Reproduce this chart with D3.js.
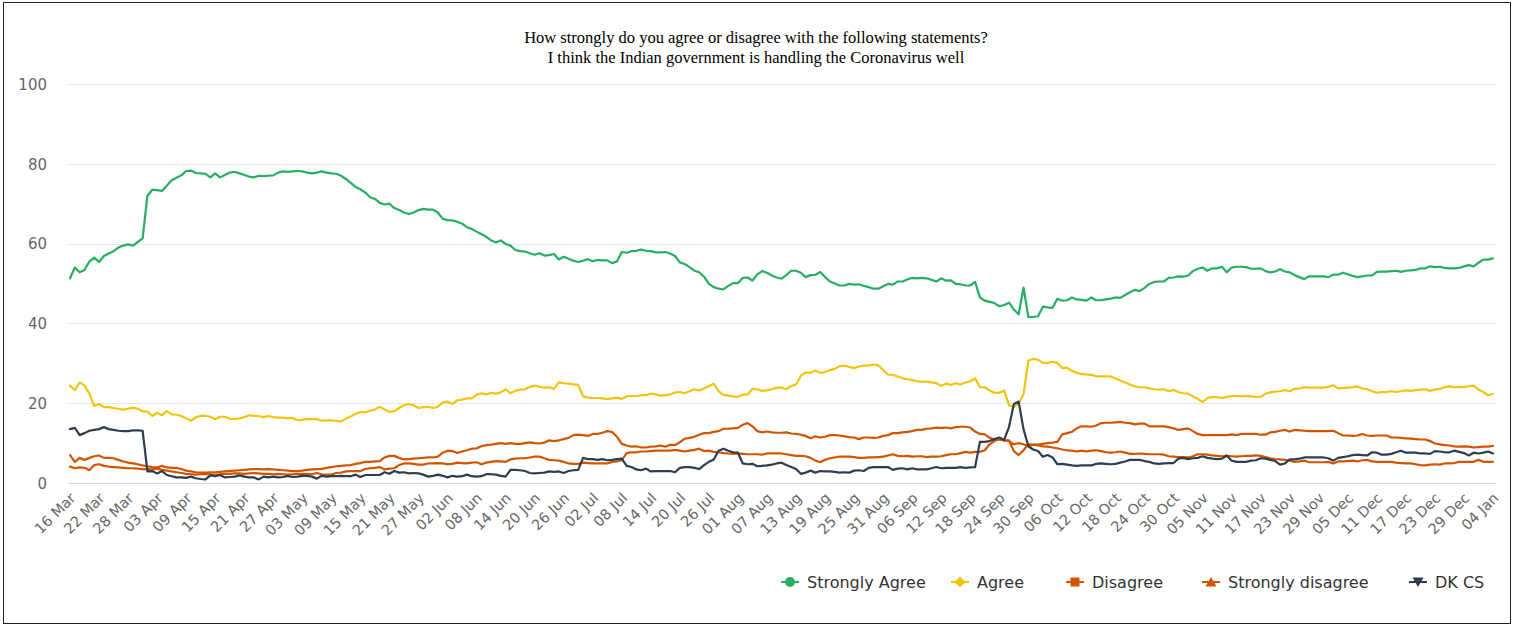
<!DOCTYPE html>
<html><head><meta charset="utf-8">
<script src="https://cdn.jsdelivr.net/npm/d3@7/dist/d3.min.js"></script>
<style>html,body{margin:0;padding:0;background:#fff;}svg{display:block;}</style>
</head><body>
<svg id="chart" width="1518" height="627"></svg>
<script>
const titleLines = ["How strongly do you agree or disagree with the following statements?",
  "I think the Indian government is handling the Coronavirus well"];
const startDate = "2020-03-16";
const tickLabels = ["16 Mar","22 Mar","28 Mar","03 Apr","09 Apr","15 Apr","21 Apr","27 Apr","03 May","09 May",
 "15 May","21 May","27 May","02 Jun","08 Jun","14 Jun","20 Jun","26 Jun","02 Jul","08 Jul",
 "14 Jul","20 Jul","26 Jul","01 Aug","07 Aug","13 Aug","19 Aug","25 Aug","31 Aug","06 Sep",
 "12 Sep","18 Sep","24 Sep","30 Sep","06 Oct","12 Oct","18 Oct","24 Oct","30 Oct","05 Nov",
 "11 Nov","17 Nov","23 Nov","29 Nov","05 Dec","11 Dec","17 Dec","23 Dec","29 Dec","04 Jan"];
const yTicks = [0,20,40,60,80,100];
const seriesNames = ["Strongly Agree","Agree","Disagree","Strongly disagree","DK CS"];

const stronglyAgree = [
51.3,54.0,52.8,53.4,55.5,56.5,55.4,56.9,57.5,58.1, 59.0,59.5,59.8,59.5,60.4,61.3,72.0,73.5,73.4,73.2,
74.5,75.9,76.5,77.1,78.2,78.3,77.7,77.6,77.5,76.6, 77.6,76.6,77.2,77.8,78.0,77.6,77.2,76.8,76.6,77.0,
76.9,77.0,77.1,77.8,78.1,78.0,78.1,78.2,78.1,77.8, 77.6,77.8,78.1,77.8,77.6,77.5,77.0,76.2,75.2,74.2,
73.6,72.8,71.6,71.2,70.2,69.8,70.0,68.9,68.4,67.8, 67.4,67.8,68.4,68.7,68.5,68.5,67.8,66.2,65.9,65.8,
65.5,65.0,64.1,63.7,63.0,62.4,61.7,60.8,60.3,60.8, 59.9,59.5,58.4,58.1,58.0,57.6,57.2,57.6,57.0,57.1,
57.4,56.0,56.7,56.2,55.7,55.4,55.7,56.1,55.6,55.9, 55.8,55.8,55.1,55.5,57.9,57.7,58.1,58.2,58.5,58.2,
58.1,57.8,57.8,57.9,57.5,56.9,55.3,54.9,54.1,53.2, 52.8,51.7,49.9,49.1,48.7,48.5,49.4,50.1,50.1,51.4,
51.5,50.7,52.3,53.1,52.7,52.0,51.5,51.2,52.1,53.2, 53.2,52.7,51.6,52.1,52.2,52.9,51.6,50.5,50.0,49.5,
49.5,49.9,49.7,49.8,49.4,49.1,48.7,48.7,49.3,49.9, 49.7,50.5,50.5,51.0,51.4,51.3,51.4,51.3,50.9,50.5,
51.3,50.7,50.8,49.9,49.8,49.5,49.5,50.4,46.5,45.7, 45.4,45.1,44.3,44.6,45.2,43.5,42.3,49.0,41.6,41.6,
41.8,44.2,44.0,43.9,46.2,45.7,45.8,46.5,46.0,45.9, 45.7,46.5,45.8,45.8,46.0,46.2,46.5,46.4,47.1,47.8,
48.4,48.1,48.9,49.9,50.4,50.5,50.5,51.4,51.5,51.8, 51.7,52.0,53.1,53.7,54.0,53.2,53.8,53.8,54.2,52.8,
54.0,54.2,54.2,54.1,53.7,53.7,53.8,53.1,52.8,53.0, 53.6,53.0,52.8,52.1,51.6,51.1,51.8,51.8,51.8,51.8,
51.6,52.2,52.2,52.7,52.3,51.9,51.6,51.8,52.0,52.0, 52.9,53.0,53.0,53.1,53.2,52.9,53.2,53.3,53.4,53.8,
53.8,54.3,54.1,54.2,53.9,53.8,53.8,53.9,54.3,54.6, 54.3,55.2,56.0,56.0,56.3];

const agree = [
24.4,23.3,25.2,24.4,22.4,19.3,19.8,19.0,19.0,18.8, 18.6,18.4,18.6,18.9,18.6,18.0,17.9,16.8,17.6,17.0,
18.0,17.2,17.1,16.8,16.2,15.6,16.5,16.8,16.8,16.6, 16.0,16.6,16.6,16.1,16.0,16.2,16.5,17.0,16.8,16.8,
16.5,16.8,16.5,16.4,16.4,16.2,16.3,15.7,15.9,16.0, 16.0,16.0,15.6,15.7,15.7,15.6,15.4,16.1,16.7,17.3,
17.8,17.7,18.1,18.4,19.1,18.4,17.8,18.0,18.8,19.5, 19.8,19.5,18.8,19.0,19.1,18.8,19.1,20.2,20.4,19.8,
20.7,20.9,21.2,21.2,22.1,22.5,22.2,22.6,22.4,22.7, 23.5,22.5,23.1,23.4,23.5,24.1,24.4,24.1,23.9,24.0,
23.6,25.2,25.0,24.9,24.7,24.6,21.7,21.4,21.3,21.3, 21.2,21.0,21.2,21.4,21.1,21.7,21.8,21.8,22.0,22.0,
22.4,22.2,21.9,22.0,22.2,22.7,22.8,22.5,23.0,23.5, 23.2,23.7,24.3,24.9,23.0,22.1,21.9,21.7,21.6,22.1,
22.2,23.6,23.5,23.1,23.2,23.5,23.9,23.9,23.5,24.3, 24.7,26.9,27.7,27.6,28.2,27.6,27.8,28.3,28.6,29.3,
29.4,29.1,28.8,29.2,29.4,29.5,29.7,29.5,28.3,27.2, 27.1,26.7,26.3,26.0,25.8,25.5,25.4,25.4,25.2,25.0,
24.4,24.9,24.6,25.0,24.7,25.2,25.5,26.2,24.0,24.0, 23.2,22.6,22.6,23.2,19.5,19.1,19.9,22.2,30.7,31.1,
30.9,30.1,30.1,30.4,30.1,28.8,28.9,28.1,27.6,27.3, 27.2,27.1,26.8,26.7,26.7,26.7,26.2,25.7,25.2,24.7,
24.2,24.0,24.0,23.7,23.5,23.4,23.5,23.0,23.3,22.8, 22.5,22.4,21.7,21.1,20.3,21.3,21.6,21.5,21.3,21.6,
21.8,21.8,21.7,21.8,21.7,21.6,21.6,22.4,22.7,22.9, 23.0,23.3,23.0,23.6,23.7,24.0,23.9,23.9,23.9,23.9,
24.1,24.5,23.7,23.8,23.9,24.0,24.2,23.7,23.5,23.0, 22.6,22.8,22.8,23.0,22.8,23.0,23.2,23.1,23.3,23.4,
23.5,23.1,23.4,23.6,24.0,24.2,24.0,24.1,24.0,24.3, 24.4,23.4,22.8,22.0,22.3];

const disagree = [
7.0,5.3,6.3,5.8,6.3,6.7,6.9,6.3,6.3,6.2, 5.8,5.4,5.1,4.9,4.7,4.4,4.2,4.0,3.9,4.3,
3.9,3.8,3.8,3.5,3.1,2.9,2.7,2.6,2.6,2.7, 2.7,2.8,2.9,3.0,3.1,3.2,3.3,3.4,3.5,3.5,
3.4,3.5,3.4,3.3,3.2,3.1,3.0,3.0,3.1,3.3, 3.4,3.5,3.5,3.8,4.0,4.2,4.3,4.4,4.5,4.8,
5.0,5.3,5.3,5.4,5.5,6.4,6.8,6.8,6.3,5.9, 6.0,6.1,6.2,6.3,6.4,6.4,6.6,7.6,8.1,8.0,
7.5,7.9,8.2,8.6,8.7,9.2,9.5,9.6,9.8,10.0, 9.8,10.0,9.8,9.8,10.0,10.2,10.0,9.9,10.1,10.7,
10.5,10.7,11.0,11.3,12.0,12.1,12.0,11.8,12.3,12.3, 12.6,13.0,12.8,11.6,9.8,9.4,9.1,9.2,8.9,8.9,
9.1,9.2,9.4,9.1,9.6,9.5,10.2,11.1,11.3,11.6, 12.1,12.5,12.5,12.8,13.0,13.6,13.6,13.7,13.8,14.6,
15.0,14.2,13.0,12.7,12.9,12.7,12.6,12.6,12.7,12.4, 12.3,12.1,11.8,11.2,11.7,11.4,11.6,12.0,12.0,11.9,
11.7,11.5,11.4,11.0,11.4,11.4,11.3,11.4,11.8,12.0, 12.5,12.5,12.7,12.8,13.0,13.3,13.3,13.6,13.7,13.9,
13.8,13.9,13.7,14.0,14.1,14.1,13.9,12.9,12.3,12.2, 11.3,10.9,10.9,10.7,10.7,8.0,7.0,8.2,9.7,9.6,
9.6,9.8,10.0,10.1,10.3,12.2,12.5,12.8,13.7,14.2, 14.2,14.1,14.4,15.0,15.1,15.1,15.2,15.3,15.1,15.0,
14.7,14.9,14.9,14.2,14.2,14.2,14.2,14.0,13.7,13.3, 13.5,13.7,13.0,12.3,12.0,12.0,12.0,12.0,12.0,12.0,
12.2,12.0,12.3,12.3,12.3,12.3,12.1,12.1,12.7,12.8, 13.1,13.3,12.9,13.3,13.2,13.1,13.0,13.0,13.0,13.0,
13.0,13.1,12.5,11.9,11.9,11.8,11.9,12.3,11.9,11.8, 11.9,11.9,11.9,11.4,11.4,11.3,11.2,11.1,11.0,10.9,
10.9,10.5,9.9,9.7,9.5,9.4,9.2,9.1,9.2,9.1, 8.9,9.0,9.1,9.1,9.3];

const stronglyDisagree = [
4.1,3.7,3.9,3.8,3.2,4.5,4.7,4.3,4.1,4.0, 3.9,3.8,3.7,3.7,3.6,3.5,3.5,3.4,3.6,3.3,
3.1,2.9,2.7,2.5,2.3,2.2,2.1,2.2,2.3,2.2, 2.1,2.2,2.3,2.3,2.4,2.4,2.3,2.4,2.5,2.4,
2.3,2.3,2.2,2.3,2.2,2.1,2.2,2.3,2.3,2.3, 2.2,2.5,2.2,2.1,2.1,2.5,2.6,2.9,3.0,3.0,
3.0,3.5,3.7,3.8,4.0,3.4,3.6,3.7,4.5,4.9, 4.9,4.8,4.6,4.6,4.9,4.9,5.0,4.9,4.7,4.8,
5.1,5.0,4.9,5.1,5.2,4.7,5.1,5.3,5.5,5.4, 5.3,5.9,6.1,6.2,6.2,6.4,6.6,6.6,6.2,5.8,
5.7,5.6,5.3,4.9,4.8,4.8,5.1,5.0,4.9,4.9, 4.9,4.9,5.3,5.4,5.7,7.5,7.7,7.7,7.9,7.9,
8.0,8.1,8.1,8.1,8.1,8.3,8.1,7.9,8.1,8.3, 8.6,8.0,8.1,7.8,7.7,7.5,7.4,7.3,7.4,7.3,
7.2,7.2,7.2,7.1,7.4,7.4,7.4,7.4,7.2,7.0, 6.8,6.8,6.7,6.3,5.6,5.2,5.8,6.2,6.4,6.6,
6.6,6.6,6.5,6.3,6.3,6.4,6.4,6.5,6.6,6.9, 7.2,6.8,6.7,6.8,6.6,6.7,6.7,6.5,6.6,6.6,
6.7,7.0,7.2,7.2,7.5,7.8,7.6,7.8,7.8,8.2, 9.7,10.5,11.0,10.7,10.5,9.7,10.0,9.7,9.2,9.6,
9.4,9.2,9.1,8.9,8.7,8.4,8.2,8.1,7.9,8.1, 7.9,8.1,8.2,8.0,7.7,7.6,7.7,7.9,7.6,7.3,
7.3,7.4,7.3,7.2,7.2,7.2,7.1,6.7,6.6,6.5, 6.5,6.4,6.7,7.2,7.2,7.1,6.9,6.8,6.7,6.8,
6.7,6.6,6.7,6.8,6.8,6.9,6.8,6.5,6.2,6.0, 5.9,5.8,5.6,5.3,5.4,5.6,5.2,5.2,5.2,5.2,
5.3,4.9,5.4,5.4,5.5,5.6,5.4,5.7,5.8,5.4, 5.3,5.3,5.3,5.3,5.1,5.0,4.9,4.9,4.7,4.5,
4.4,4.6,4.7,4.6,4.9,4.9,5.0,5.3,5.3,5.3, 5.3,5.8,5.3,5.3,5.3];

const dkcs = [
13.5,13.8,12.0,12.5,13.1,13.3,13.5,14.0,13.5,13.3, 13.1,13.0,13.0,13.2,13.2,13.1,2.9,3.0,2.4,3.0,
2.0,1.7,1.4,1.4,1.3,1.6,1.2,1.0,0.9,1.9, 1.7,2.0,1.4,1.5,1.6,1.9,1.6,1.4,1.4,0.9,
1.6,1.4,1.6,1.4,1.5,1.8,1.5,1.6,1.8,1.8, 1.6,1.1,1.8,1.6,1.7,1.7,1.8,1.7,1.7,2.1,
1.5,2.0,2.0,2.0,2.0,2.7,2.3,3.0,2.6,2.7, 2.4,2.5,2.4,2.1,1.6,1.8,2.1,1.8,1.4,1.8,
1.6,1.7,2.1,1.7,1.6,1.7,2.2,2.2,2.1,1.8, 1.6,3.3,3.3,3.2,3.0,2.5,2.4,2.5,2.6,2.9,
2.8,2.9,2.5,3.0,3.2,3.3,6.3,6.0,6.0,5.8, 6.0,5.7,5.8,6.0,6.1,4.3,4.0,3.4,3.2,3.6,
2.9,3.0,3.0,3.0,3.0,2.7,3.8,4.0,4.0,3.8, 3.5,4.5,5.3,5.9,8.1,8.6,8.1,7.7,7.6,4.9,
4.7,4.8,4.2,4.3,4.4,4.6,4.9,5.1,4.5,4.0, 3.5,2.3,2.6,3.1,2.6,3.0,2.9,2.9,2.8,2.6,
2.7,2.6,3.1,3.2,3.0,3.8,4.0,4.0,4.0,4.0, 3.3,3.6,3.7,3.4,3.7,3.4,3.4,3.4,3.7,4.0,
3.7,3.8,3.8,3.8,4.0,3.8,3.9,4.0,10.3,10.3, 10.5,11.0,11.4,10.8,14.0,19.8,20.4,13.5,9.2,8.4,
8.0,6.6,7.0,6.4,4.7,4.8,4.6,4.4,4.3,4.4, 4.4,4.4,4.8,4.9,4.8,4.7,4.8,5.1,5.4,5.8,
5.8,5.8,5.5,5.3,4.9,4.8,4.9,5.0,5.0,6.1, 6.3,6.0,6.2,6.3,6.7,6.3,6.1,6.0,6.1,6.9,
5.6,5.3,5.3,5.3,5.6,5.7,6.2,6.1,5.8,5.5, 4.6,4.9,5.9,5.9,6.1,6.4,6.4,6.4,6.4,6.4,
6.2,5.6,6.3,6.5,6.7,7.0,7.1,7.0,6.9,7.7, 7.6,7.1,7.1,7.3,7.7,8.1,7.6,7.6,7.6,7.4,
7.4,7.3,8.0,7.9,7.7,7.7,8.1,7.8,7.5,6.9, 7.6,7.4,7.6,7.9,7.4];

const seriesValues = [stronglyAgree, agree, disagree, stronglyDisagree, dkcs];
const seriesColors = ["#27ae60","#f1c40f","#d35400","#d35400","#2c3e50"];
const seriesSymbols = ["circle","diamond","square","triangle","triangle-down"];

const svg = d3.select("#chart");
const FONT = "'DejaVu Sans', Verdana, sans-serif";

svg.append("rect").attr("x",3.5).attr("y",2.5).attr("width",1507).attr("height",621)
  .attr("fill","#fff").attr("stroke","#222").attr("stroke-width",1);

// Title
svg.append("g").selectAll("text").data(titleLines).join("text")
  .attr("x", 756).attr("y", (d,i)=>43 + i*20)
  .attr("text-anchor","middle")
  .attr("font-family","'Liberation Serif', 'Times New Roman', serif")
  .attr("font-size",16.5).attr("fill","#000").text(d=>d);

const parse = d3.utcParse("%Y-%m-%d");
const t0 = parse(startDate);
const nDays = stronglyAgree.length;
const dates = d3.range(nDays).map(i => d3.utcDay.offset(t0, i));

const x = d3.scaleUtc().domain([dates[0], dates[nDays-1]]).range([70, 1493]);
const y = d3.scaleLinear().domain([0,100]).range([483, 84]);

// grid
svg.append("g").selectAll("line").data(yTicks.filter(v=>v>0)).join("line")
  .attr("x1",68).attr("x2",1496).attr("y1",d=>Math.round(y(d))+0.5).attr("y2",d=>Math.round(y(d))+0.5)
  .attr("stroke","#e6e6e6").attr("stroke-width",1);

// y axis labels
const yAxis = d3.axisLeft(y).tickValues(yTicks).tickSize(0).tickPadding(0);
const yG = svg.append("g").attr("transform","translate(47,0)").call(yAxis);
yG.select(".domain").remove();
yG.selectAll("text").attr("font-family",FONT).attr("font-size",15).attr("fill","#666").attr("dy","0.35em");

// x axis
const tickDates = tickLabels.map((_,i)=>dates[i*6]);
const xAxis = d3.axisBottom(x).tickValues(tickDates).tickSize(0).tickFormat((d,i)=>tickLabels[i]);
const xG = svg.append("g").attr("transform","translate(0,483)").call(xAxis);
xG.select(".domain").attr("stroke","#ccd6eb").attr("d","M68,0.5H1496");
xG.selectAll("text").attr("font-family",FONT).attr("font-size",14.5).attr("fill","#666")
  .attr("text-anchor","end").attr("dy",null).attr("y",0)
  .attr("transform","translate(6,16) rotate(-45)");

// lines
const line = d3.line().x((d,i)=>x(dates[i])).y(d=>y(d)).curve(d3.curveLinear);
const linesG = svg.append("g");
seriesValues.forEach((vals,k)=>{
  linesG.append("path").datum(vals).attr("d",line).attr("fill","none")
    .attr("stroke",seriesColors[k]).attr("stroke-width",2.2)
    .attr("stroke-linejoin","round").attr("stroke-linecap","round");
});

// legend
const legendTextX = [807, 977, 1092, 1228, 1435];
const legendY = 582;
const symPaths = {
  "circle": "M0,-5A5,5 0 1,1 0,5A5,5 0 1,1 0,-5Z",
  "diamond": "M0,-5.5L5.5,0L0,5.5L-5.5,0Z",
  "square": "M-4.5,-4.5H4.5V4.5H-4.5Z",
  "triangle": "M0,-5L5.5,4.5L-5.5,4.5Z",
  "triangle-down": "M-5.5,-4.5L5.5,-4.5L0,5Z"
};
const lg = svg.append("g");
seriesNames.forEach((name,k)=>{
  const cx = legendTextX[k] - 17;
  const g = lg.append("g").attr("transform",`translate(${cx},${legendY})`);
  g.append("line").attr("x1",-9).attr("x2",9).attr("y1",0).attr("y2",0)
    .attr("stroke",seriesColors[k]).attr("stroke-width",2);
  g.append("path").attr("d",symPaths[seriesSymbols[k]]).attr("fill",seriesColors[k]);
  g.append("text").attr("x",17).attr("y",0).attr("dy","0.36em")
    .attr("font-family",FONT).attr("font-size",16).attr("fill","#333").text(name);
});
</script>
</body></html>
